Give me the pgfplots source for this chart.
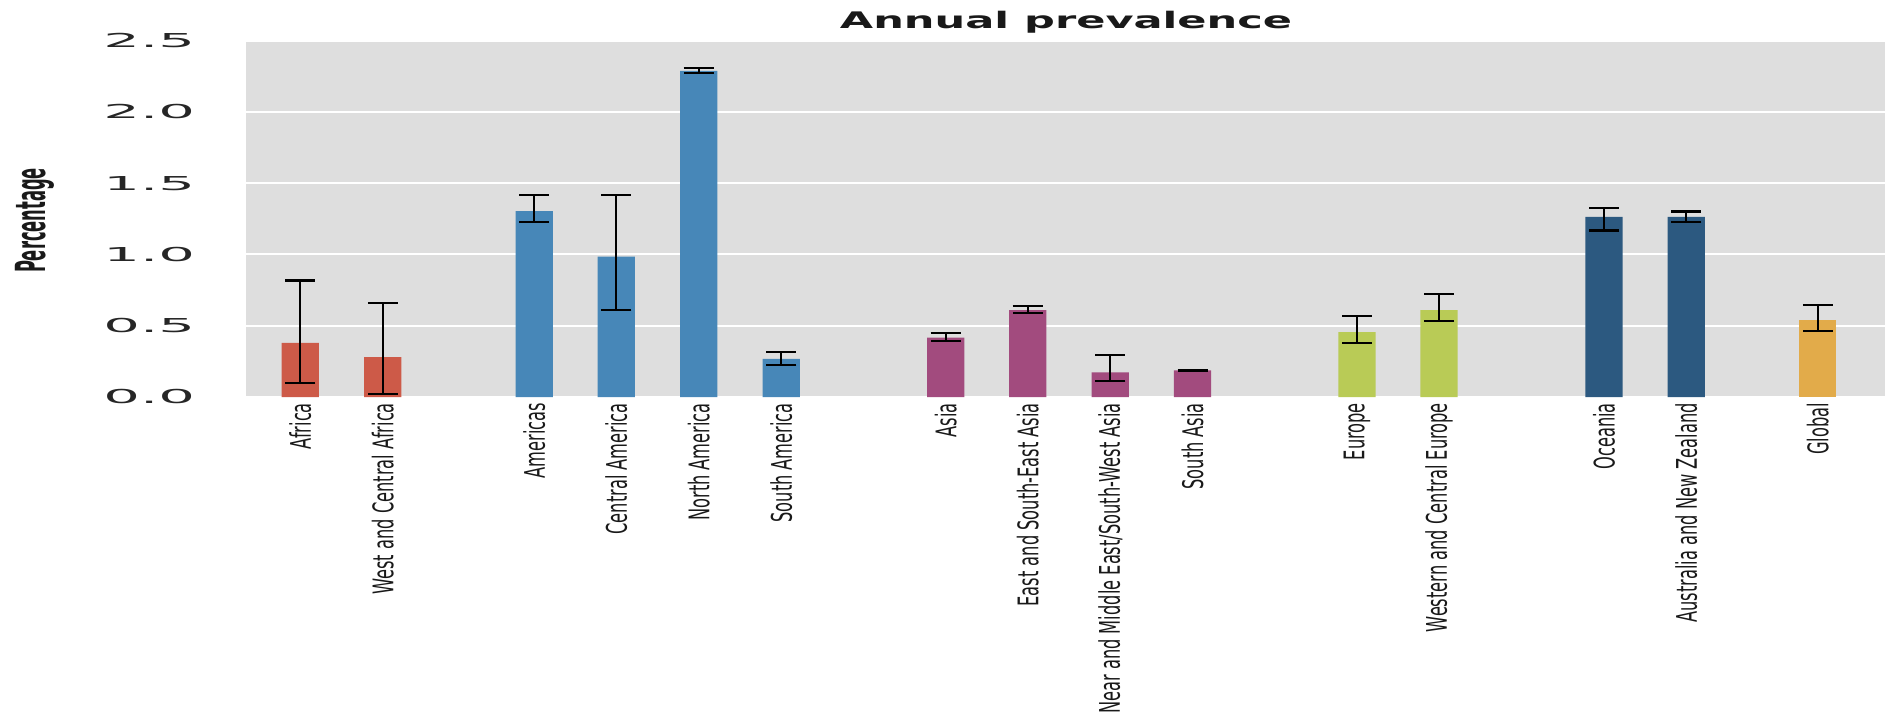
\documentclass[border=0pt]{standalone}
\usepackage{fontspec}
\setmainfont{DejaVu Sans}
\usepackage{pgfplots}
\pgfplotsset{compat=1.18}
\definecolor{bggray}{HTML}{DEDEDE}
\definecolor{cafr}{HTML}{CD5A48}
\definecolor{camr}{HTML}{4787B8}
\definecolor{casi}{HTML}{A24B7E}
\definecolor{ceur}{HTML}{B9CB56}
\definecolor{coce}{HTML}{2C5980}
\definecolor{cglo}{HTML}{E2AB4A}
\newcommand{\xl}[1]{\scalebox{1}[1.75]{#1}}
\newcommand{\yl}[1]{\scalebox{3.0}[1]{#1}}
\pgfplotsset{
  mybar/.style={ybar, bar width=37.3, bar shift=0pt, fill=#1, draw=none,
    error bars/.cd, y dir=both, y explicit,
    error bar style={line width=1.1pt, black},
    error mark options={rotate=90, line width=1.1pt, black, mark size=7.5pt}}
}
\begin{document}
\begin{tikzpicture}
\path[use as bounding box] (0,0) rectangle (942.5pt,359pt);
\begin{axis}[
  at={(122.75pt,160.5pt)}, anchor=south west,
  scale only axis, width=819.75pt, height=178.15pt,
  xmin=245.5, xmax=1885, ymin=0, ymax=2.5,
  axis background/.style={fill=bggray},
  axis line style={draw=none},
  major tick length=0pt,
  ymajorgrids, grid style={white, line width=1pt},
  ytick={0,0.5,1,1.5,2,2.5},
  yticklabels={\yl{0.0},\yl{0.5},\yl{1.0},\yl{1.5},\yl{2.0},\yl{2.5}},
  yticklabel style={font=\fontsize{9.6}{11}\selectfont, text=black!85, anchor=east, inner sep=0pt, xshift=-25pt},
  xtick={300.3,382.8,534.2,616.3,698.7,781.3,945.7,1027.7,1110.3,1192.5,1357,1439,1604,1686.3,1817.8},
  xticklabels={\xl{Africa},\xl{West and Central Africa},\xl{Americas},\xl{Central America},\xl{North America},\xl{South America},\xl{Asia},\xl{East and South-East Asia},\xl{Near and Middle East/South-West Asia},\xl{South Asia},\xl{Europe},\xl{Western and Central Europe},\xl{Oceania},\xl{Australia and New Zealand},\xl{Global}},
  xticklabel style={font=\fontsize{8.125}{10}\selectfont, text=black!90, rotate=90, anchor=east, inner xsep=2.85pt, inner ysep=0pt},
]
\addplot[mybar=cafr] coordinates {
  (300.3,0.380) += (0,0.437) -= (0,0.282)
  (382.8,0.280) += (0,0.378) -= (0,0.261)
};
\addplot[mybar=camr] coordinates {
  (534.2,1.304) += (0,0.115) -= (0,0.077)
  (616.3,0.985) += (0,0.434) -= (0,0.374)
  (698.7,2.289) += (0,0.021) -= (0,0.014)
  (781.3,0.267) += (0,0.047) -= (0,0.040)
};
\addplot[mybar=casi] coordinates {
  (945.7,0.417) += (0,0.030) -= (0,0.024)
  (1027.7,0.609) += (0,0.030) -= (0,0.019)
  (1110.3,0.173) += (0,0.120) -= (0,0.058)
  (1192.5,0.187) += (0,0.002) -= (0,0.002)
};
\addplot[mybar=ceur] coordinates {
  (1357,0.456) += (0,0.110) -= (0,0.079)
  (1439,0.609) += (0,0.112) -= (0,0.078)
};
\addplot[mybar=coce] coordinates {
  (1604,1.264) += (0,0.063) -= (0,0.096)
  (1686.3,1.264) += (0,0.037) -= (0,0.037)
};
\addplot[mybar=cglo] coordinates {
  (1817.8,0.540) += (0,0.108) -= (0,0.075)
};
\end{axis}
\node[anchor=base, inner sep=0pt, text=black!90] at (533pt,344.85pt)
  {\scalebox{1.89}[1]{\fontsize{11.4}{13}\selectfont\bfseries Annual prevalence}};
\node[rotate=90, inner sep=0pt, text=black!90] at (17.5pt,248.75pt)
  {\scalebox{1}[2.54]{\fontsize{8.16}{10}\selectfont\bfseries Percentage}};
\end{tikzpicture}
\end{document}
